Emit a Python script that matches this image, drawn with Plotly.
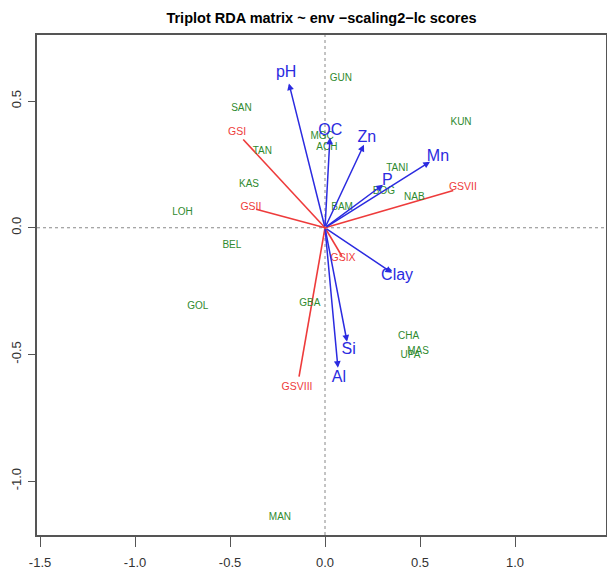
import plotly.graph_objects as go

# Site scores (green labels)
site_names = ["GUN", "SAN", "TAN", "MGC", "ACH", "KAS", "LOH", "BAM", "KUN", "TANI",
              "BOG", "NAB", "BEL", "GOL", "GBA", "CHA", "MAS", "UPA", "MAN"]
site_x = [0.084, -0.44, -0.33, -0.015, 0.01, -0.40, -0.75, 0.09, 0.716, 0.38,
          0.31, 0.47, -0.49, -0.67, -0.08, 0.44, 0.49, 0.45, -0.237]
site_y = [0.59, 0.47, 0.30, 0.36, 0.316, 0.17, 0.06, 0.08, 0.415, 0.235,
          0.143, 0.12, -0.07, -0.31, -0.30, -0.43, -0.49, -0.505, -1.142]

# Species scores (red)
spec_names = ["GSI", "GSII", "GSVII", "GSIX", "GSVIII"]
spec_x = [-0.463, -0.39, 0.726, 0.095, -0.147]
spec_y = [0.375, 0.079, 0.158, -0.12, -0.632]

# Environmental biplot arrows (blue)
env_names = ["pH", "OC", "Zn", "Mn", "P", "Clay", "Si", "Al"]
env_x = [-0.19, 0.026, 0.205, 0.553, 0.305, 0.353, 0.116, 0.068]
env_y = [0.57, 0.356, 0.328, 0.261, 0.17, -0.178, -0.45, -0.553]

x_ticks = [-1.5, -1.0, -0.5, 0.0, 0.5, 1.0]
y_ticks = [-1.0, -0.5, 0.0, 0.5]

GREEN = "#2f8a2f"
RED = "#ee3b3b"
BLUE = "#2b2be0"
FONT = "Liberation Sans, Arial, sans-serif"
line_frac = 0.93
label_mult = 1.075

fig = go.Figure()

# red species lines
lx, ly = [], []
for x, y in zip(spec_x, spec_y):
    lx += [0, x * line_frac, None]
    ly += [0, y * line_frac, None]
fig.add_trace(go.Scatter(x=lx, y=ly, mode="lines",
                         line=dict(color=RED, width=1.6), hoverinfo="skip"))

# green site labels
fig.add_trace(go.Scatter(x=site_x, y=site_y, mode="text", text=site_names,
                         textfont=dict(color=GREEN, size=10, family=FONT)))

# red species labels
fig.add_trace(go.Scatter(x=spec_x, y=spec_y, mode="text", text=spec_names,
                         textfont=dict(color=RED, size=10.5, family=FONT)))

# blue env labels
fig.add_trace(go.Scatter(x=[v * label_mult for v in env_x],
                         y=[v * label_mult for v in env_y],
                         mode="text", text=env_names,
                         textfont=dict(color=BLUE, size=16, family=FONT)))

# blue arrows
for x, y in zip(env_x, env_y):
    fig.add_annotation(x=x, y=y, ax=0, ay=0, xref="x", yref="y",
                       axref="x", ayref="y", text="", showarrow=True,
                       arrowhead=2, arrowsize=0.9, arrowwidth=1.5,
                       arrowcolor=BLUE)

# dotted zero lines
fig.add_shape(type="line", xref="x", yref="paper", x0=0, x1=0, y0=0, y1=1,
              line=dict(color="#888888", width=1, dash="dot"), layer="below")
fig.add_shape(type="line", xref="paper", yref="y", x0=0, x1=1, y0=0, y1=0,
              line=dict(color="#888888", width=1, dash="dot"), layer="below")

fig.update_layout(
    width=607, height=573,
    margin=dict(l=37, r=1, t=35, b=38, pad=0),
    paper_bgcolor="white", plot_bgcolor="white",
    showlegend=False,
    title=dict(text="<b>Triplot RDA matrix ~ env −scaling2−lc scores</b>",
               x=0.5, xanchor="center", y=0.969, yanchor="middle",
               xref="paper", yref="container",
               font=dict(size=14.5, color="black", family=FONT)),
    font=dict(family=FONT),
)
fig.update_xaxes(range=[-1.516, 1.479], tickvals=x_ticks,
                 ticktext=[f"{v:.1f}" for v in x_ticks],
                 showgrid=False, zeroline=False, automargin=False,
                 showline=True, mirror=True, linecolor="#555555", linewidth=1.5,
                 ticks="outside", ticklen=10, tickcolor="#555555",
                 ticklabelstandoff=5,
                 tickfont=dict(size=13, color="#333333", family=FONT))
fig.update_yaxes(range=[-1.213, 0.761], tickvals=y_ticks,
                 ticktext=[f"{v:.1f}" for v in y_ticks],
                 showgrid=False, zeroline=False, automargin=False,
                 showline=True, mirror=True, linecolor="#555555", linewidth=1.5,
                 ticks="outside", ticklen=7, tickcolor="#555555", tickangle=-90,
                 ticklabelstandoff=2,
                 tickfont=dict(size=13, color="#333333", family=FONT))

fig.write_html("out.html", config={"displayModeBar": False},
               post_script="document.body.style.margin='0';document.body.style.overflow='hidden';")
